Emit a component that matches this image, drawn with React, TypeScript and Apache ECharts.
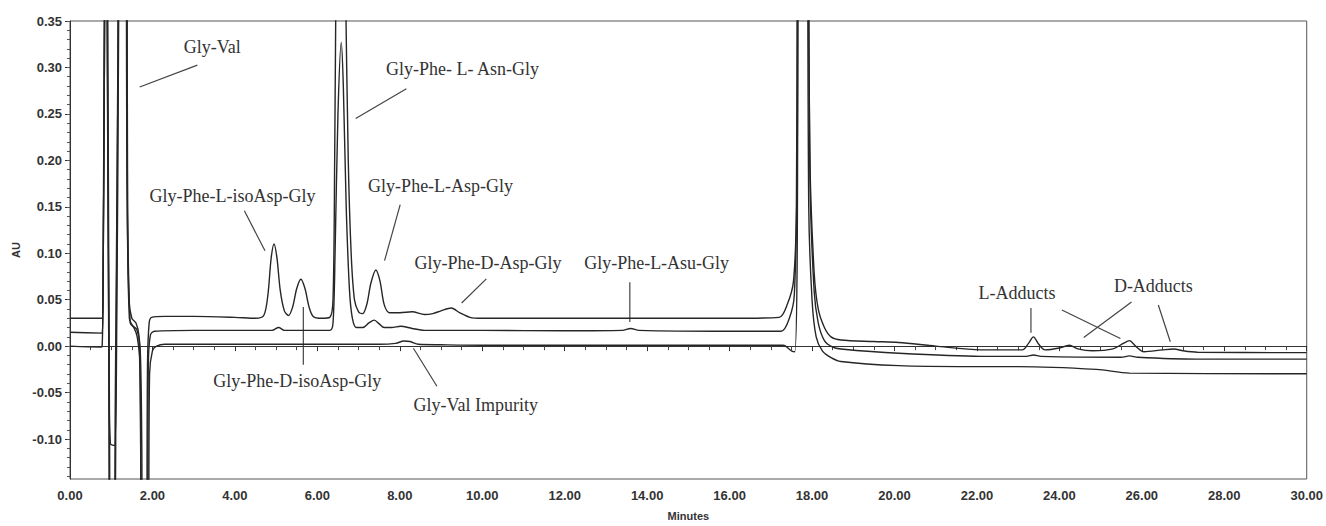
import React, { useEffect, useRef } from "react";
import * as echarts from "echarts";

// ---- Data (minutes, AU) ----
const traceTop: [number, number][] = [
  [0, 0.03], [0.78, 0.03], [0.8, 0.06], [0.83, 0.35], [0.86, 0.8], [0.9, 0.35], [0.94, 0.0], [0.97, -0.3], [1.06, -0.3],
  [1.12, 0.0], [1.17, 0.35], [1.22, 0.8], [1.33, 0.8], [1.38, 0.2], [1.43, 0.05], [1.5, 0.03], [1.6, 0.025], [1.67, 0.012],
  [1.71, -0.08], [1.74, -0.3], [1.84, -0.3], [1.88, -0.02], [1.92, 0.025], [1.98, 0.031], [2.3, 0.032], [3.0, 0.032],
  [4.0, 0.031], [4.5, 0.03], [4.7, 0.033], [4.8, 0.055], [4.88, 0.095], [4.95, 0.11], [5.02, 0.095], [5.1, 0.06],
  [5.2, 0.038], [5.3, 0.033], [5.4, 0.042], [5.5, 0.062], [5.6, 0.072], [5.7, 0.062], [5.8, 0.042], [5.9, 0.032],
  [6.1, 0.03], [6.3, 0.031], [6.38, 0.05], [6.42, 0.2], [6.47, 0.5], [6.56, 0.9], [6.62, 0.6], [6.68, 0.4], [6.75, 0.2],
  [6.82, 0.1], [6.9, 0.05], [7.0, 0.037], [7.1, 0.035], [7.2, 0.045], [7.3, 0.068], [7.42, 0.082], [7.52, 0.07],
  [7.62, 0.045], [7.75, 0.036], [8.0, 0.036], [8.3, 0.037], [8.6, 0.034], [8.8, 0.035], [9.0, 0.038], [9.25, 0.041],
  [9.45, 0.036], [9.7, 0.031], [10, 0.03], [12, 0.03], [14, 0.03], [16, 0.03], [17.2, 0.031], [17.4, 0.045],
  [17.55, 0.07], [17.62, 0.15], [17.68, 0.8], [17.82, 0.8], [17.95, 0.2], [18.05, 0.08], [18.15, 0.04], [18.3, 0.02],
  [18.46, 0.01], [18.7, 0.0066], [19.5, 0.005], [20.1, 0.004], [21.0, 0.0], [22.1, -0.004], [23.1, -0.004],
  [23.25, 0.003], [23.37, 0.01], [23.5, 0.002], [23.65, -0.004], [24.0, -0.002], [24.24, 0.001], [24.45, -0.003],
  [24.8, -0.005], [25.3, -0.003], [25.55, 0.003], [25.7, 0.006], [25.85, 0.0], [26.05, -0.006], [26.5, -0.004],
  [26.78, -0.003], [27.0, -0.005], [27.35, -0.0066], [30, -0.007],
];

const traceMiddle: [number, number][] = [
  [0, 0.015], [0.78, 0.014], [0.8, 0.05], [0.84, 0.35], [0.87, 0.8], [0.91, 0.3], [0.95, -0.05], [0.98, -0.105],
  [1.08, -0.107], [1.13, 0.0], [1.18, 0.35], [1.23, 0.8], [1.34, 0.8], [1.39, 0.15], [1.44, 0.03], [1.52, 0.022],
  [1.62, 0.018], [1.7, 0.0], [1.74, -0.1], [1.77, -0.3], [1.87, -0.3], [1.9, -0.02], [1.95, 0.012], [2.05, 0.016],
  [3, 0.017], [4.5, 0.017], [4.9, 0.017], [5.06, 0.02], [5.2, 0.017], [6.3, 0.017], [6.38, 0.025], [6.43, 0.1],
  [6.5, 0.25], [6.58, 0.327], [6.63, 0.28], [6.7, 0.15], [6.78, 0.06], [6.85, 0.03], [6.95, 0.02], [7.1, 0.02],
  [7.25, 0.025], [7.38, 0.028], [7.5, 0.024], [7.62, 0.02], [7.8, 0.02], [8.02, 0.0215], [8.3, 0.019], [8.6, 0.017],
  [10, 0.017], [12, 0.0165], [13.4, 0.017], [13.6, 0.019], [13.8, 0.017], [16, 0.016], [17.25, 0.016], [17.45, 0.03],
  [17.57, 0.055], [17.64, 0.2], [17.7, 0.8], [17.84, 0.8], [17.95, 0.18], [18.05, 0.06], [18.15, 0.025], [18.3, 0.006],
  [18.5, -0.001], [18.7, -0.003], [20.1, -0.0077], [22.1, -0.011], [23.2, -0.011], [23.37, -0.0095], [23.55, -0.011],
  [25.5, -0.012], [25.7, -0.0105], [25.9, -0.012], [27.3, -0.014], [30, -0.014],
];

const traceBottom: [number, number][] = [
  [0, 0.0], [0.75, -0.001], [0.78, 0.0], [0.8, 0.05], [0.84, 0.35], [0.88, 0.8], [0.92, 0.3], [0.96, -0.1], [0.99, -0.3],
  [1.05, -0.3], [1.1, -0.05], [1.16, 0.3], [1.21, 0.8], [1.35, 0.8], [1.4, 0.15], [1.46, 0.025], [1.55, 0.02],
  [1.63, 0.01], [1.7, -0.02], [1.75, -0.3], [1.88, -0.3], [1.93, -0.03], [2.0, -0.005], [2.1, 0.0], [2.3, 0.002],
  [4, 0.002], [6, 0.002], [7.5, 0.002], [7.9, 0.003], [8.1, 0.0055], [8.25, 0.005], [8.45, 0.002], [9, 0.0015],
  [10, 0.001], [12, 0.001], [14, 0.001], [16, 0.001], [17.3, 0.001], [17.5, -0.005], [17.58, -0.006], [17.64, 0.1],
  [17.7, 0.8], [17.84, 0.8], [17.92, 0.15], [18.0, 0.05], [18.1, 0.01], [18.25, -0.005], [18.45, -0.012],
  [18.7, -0.0165], [20.1, -0.021], [21.85, -0.022], [23, -0.022], [24.9, -0.025], [25.7, -0.029], [30, -0.0297],
];

const yMajorTicks = [-0.1, -0.05, 0, 0.05, 0.1, 0.15, 0.2, 0.25, 0.3, 0.35];
const yMinorTicks = [
  -0.14, -0.13, -0.12, -0.11, -0.1, -0.09, -0.08, -0.07, -0.06, -0.05, -0.04, -0.03, -0.02, -0.01, 0,
  0.01, 0.02, 0.03, 0.04, 0.05, 0.06, 0.07, 0.08, 0.09, 0.1, 0.11, 0.12, 0.13, 0.14, 0.15, 0.16, 0.17,
  0.18, 0.19, 0.2, 0.21, 0.22, 0.23, 0.24, 0.25, 0.26, 0.27, 0.28, 0.29, 0.3, 0.31, 0.32, 0.33, 0.34, 0.35,
];

// annotations: text position and pointer lines in data coordinates
const annotations: { text: string; at: [number, number]; lines: [number, number][][] }[] = [
  { text: "Gly-Val", at: [3.45, 0.322], lines: [[[3.09, 0.3025], [1.69, 0.279]]] },
  { text: "Gly-Phe- L- Asn-Gly", at: [9.52, 0.298], lines: [[[8.16, 0.277], [6.93, 0.245]]] },
  { text: "Gly-Phe-L-isoAsp-Gly", at: [3.94, 0.1617], lines: [[[4.23, 0.1457], [4.73, 0.1027]]] },
  { text: "Gly-Phe-L-Asp-Gly", at: [8.99, 0.1724], lines: [[[8.01, 0.1524], [7.63, 0.092]]] },
  { text: "Gly-Phe-D-Asp-Gly", at: [10.14, 0.0891], lines: [[[10.1, 0.0724], [9.5, 0.0464]]] },
  { text: "Gly-Phe-L-Asu-Gly", at: [14.23, 0.0891], lines: [[[13.58, 0.0688], [13.58, 0.0261]]] },
  { text: "Gly-Phe-D-isoAsp-Gly", at: [5.51, -0.0379], lines: [[[5.66, 0.0422], [5.66, -0.0201]]] },
  { text: "Gly-Val Impurity", at: [9.84, -0.0635], lines: [[[8.9, -0.0432], [8.33, -0.0023]]] },
  {
    text: "L-Adducts", at: [22.97, 0.0571],
    lines: [[[23.31, 0.0411], [23.31, 0.0144]], [[24.06, 0.039], [25.48, 0.0083]]],
  },
  {
    text: "D-Adducts", at: [26.28, 0.0646],
    lines: [[[25.75, 0.0475], [24.59, 0.0094]], [[26.4, 0.0443], [26.69, 0.0048]]],
  },
];

const TRACE_COLOR = "#262626";

export default function App() {
  const ref = useRef<HTMLDivElement>(null);
  useEffect(() => {
    if (!ref.current) return;
    const chart = echarts.init(ref.current, undefined, { renderer: "svg" });
    const lineSeries = (data: [number, number][]) => ({
      type: "line",
      data,
      showSymbol: false,
      smooth: 0.3,
      clip: true,
      lineStyle: { color: TRACE_COLOR, width: 1.4 },
      xAxisIndex: 0,
      yAxisIndex: 0,
    });
    const axisFont = { fontFamily: "Liberation Sans", fontWeight: "bold" as const, fontSize: 13, color: "#333" };
    chart.setOption({
      animation: false,
      backgroundColor: "#ffffff",
      grid: { left: 70, right: 14, top: 21, bottom: 43, show: true, borderColor: "#555", borderWidth: 1 },
      xAxis: {
        type: "value",
        min: 0,
        max: 30,
        interval: 2,
        name: "Minutes",
        nameLocation: "middle",
        nameGap: 31,
        nameTextStyle: { fontFamily: "Liberation Sans", fontWeight: "bold", fontSize: 11, color: "#333" },
        axisLine: { lineStyle: { color: "#333", width: 1 } },
        axisTick: { length: 5, lineStyle: { color: "#333" } },
        minorTick: { show: true, splitNumber: 4, length: 4, lineStyle: { color: "#444" } },
        axisLabel: { ...axisFont, margin: 10, formatter: (v: number) => v.toFixed(2) },
        splitLine: { show: false },
      },
      yAxis: [
        {
          type: "value",
          min: -0.143,
          max: 0.35,
          name: "AU",
          nameLocation: "middle",
          nameGap: 41,
          nameRotate: 90,
          nameTextStyle: { fontFamily: "Liberation Sans", fontWeight: "bold", fontSize: 11, color: "#333" },
          axisLine: { show: true, lineStyle: { color: "#333", width: 1 } },
          axisTick: { show: true, length: 5, customValues: yMajorTicks, lineStyle: { color: "#333" } },
          axisLabel: { ...axisFont, margin: 8, customValues: yMajorTicks, formatter: (v: number) => v.toFixed(2) },
          splitLine: { show: false },
        },
        {
          type: "value",
          min: -0.143,
          max: 0.35,
          position: "left",
          axisLine: { show: false },
          axisTick: { show: true, length: 3, customValues: yMinorTicks, lineStyle: { color: "#555" } },
          axisLabel: { show: false },
          splitLine: { show: false },
        },
      ],
      series: [lineSeries(traceTop), lineSeries(traceMiddle), lineSeries(traceBottom)],
    });

    const toPx = (p: [number, number]) => chart.convertToPixel({ gridIndex: 0 }, p) as number[];
    const graphics: any[] = [];
    annotations.forEach((a) => {
      const c = toPx(a.at);
      graphics.push({
        type: "text",
        x: c[0],
        y: c[1],
        style: {
          text: a.text,
          font: '18px "Liberation Serif", "Times New Roman", serif',
          fill: "#333",
          align: "center",
          verticalAlign: "middle",
        },
      });
      a.lines.forEach((ln) => {
        const p1 = toPx(ln[0] as [number, number]);
        const p2 = toPx(ln[1] as [number, number]);
        graphics.push({
          type: "line",
          shape: { x1: p1[0], y1: p1[1], x2: p2[0], y2: p2[1] },
          style: { stroke: "#444", lineWidth: 1.2 },
        });
      });
    });
    chart.setOption({ graphic: graphics });

    return () => chart.dispose();
  }, []);
  return <div ref={ref} style={{ position: "fixed", left: 0, top: 0, width: 1326, height: 526 }} />;
}
